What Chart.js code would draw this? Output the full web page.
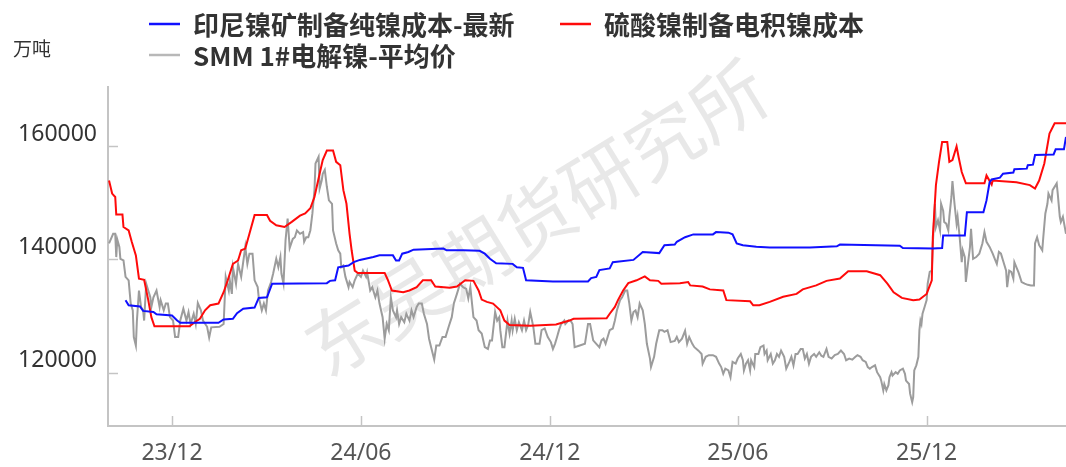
<!DOCTYPE html>
<html>
<head>
<meta charset="utf-8">
<script src="https://cdn.jsdelivr.net/npm/chart.js@4.4.1/dist/chart.umd.min.js"></script>
<style>
  body { margin: 0; background: #fff; }
  #wrap { position: relative; width: 1066px; height: 467px; }
</style>
</head>
<body>
<div id="wrap"><canvas id="nickelChart"></canvas></div>
<script>
// x values are days counted from 2023-09-30
const tickDays = [62, 245, 428, 610, 793];
const tickLabels = ['23/12', '24/06', '24/12', '25/06', '25/12'];
const yTicks = [120000, 140000, 160000];
const seriesNames = ['印尼镍矿制备纯镍成本-最新', '硫酸镍制备电积镍成本', 'SMM 1#电解镍-平均价'];
const unitLabel = '万吨';
const watermark = '东吴期货研究所';

const indoCost = [[17,132800],[20,131900],[31,131700],[34,130900],[44,130700],[47,130300],[62,130100],[67,129200],[70,128800],[107,128800],[112,129400],[121,129500],[125,130500],[131,131300],[142,131500],[146,133200],[154,133300],[159,135700],[212,135800],[215,136200],[220,136300],[223,138600],[233,138900],[238,139500],[244,139900],[257,140400],[263,140700],[276,140700],[279,139800],[282,139800],[285,141000],[291,141300],[296,141700],[325,141900],[328,141600],[344,141600],[360,141500],[365,141000],[370,140100],[376,139300],[392,139200],[396,138600],[402,138500],[405,136300],[431,136100],[465,136100],[468,136700],[473,136900],[476,138100],[486,138400],[489,139500],[509,139900],[518,141300],[534,141100],[539,142500],[549,142600],[551,143100],[559,143900],[567,144400],[586,144400],[589,144800],[601,144700],[605,144400],[609,142800],[615,142500],[628,142200],[641,142100],[680,142100],[706,142300],[709,142600],[767,142400],[770,142000],[799,141900],[808,142000],[809,144200],[830,144200],[832,148300],[848,148300],[851,150400],[854,153600],[856,154100],[864,154400],[867,155100],[877,155300],[878,155900],[890,156000],[891,156600],[896,156700],[898,158400],[916,158500],[918,159400],[926,159400],[928,161600]];

const sulfateCost = [[1,153900],[4,151600],[7,151000],[8,147900],[14,147900],[15,145700],[20,145100],[23,143100],[27,140700],[30,136600],[35,136400],[39,132800],[42,129800],[45,128200],[79,128200],[84,128900],[89,129500],[94,131000],[99,131900],[107,132200],[112,134200],[116,136300],[121,139200],[126,139800],[129,141600],[133,141900],[137,144500],[142,147800],[154,147800],[157,146800],[163,146000],[171,145700],[178,146600],[186,147700],[191,148100],[196,149000],[200,151000],[205,155100],[208,157500],[212,159200],[218,159200],[221,157200],[225,156600],[228,152200],[231,149800],[234,144500],[236,141600],[239,138000],[242,137600],[268,137600],[271,136400],[275,134500],[286,134200],[292,134500],[299,135100],[305,136300],[313,136300],[317,135200],[331,135000],[338,135200],[346,136300],[354,136200],[359,134500],[362,132900],[367,132500],[373,132200],[380,131000],[384,129200],[389,128400],[409,128300],[434,128500],[447,129200],[451,129500],[483,129600],[486,130400],[491,131600],[494,132800],[499,134500],[504,135800],[512,136300],[520,137000],[525,136300],[533,136200],[536,135700],[554,135800],[562,136000],[564,135400],[576,135200],[583,134700],[596,134500],[599,132800],[622,132600],[625,131900],[631,131900],[641,132500],[654,133400],[667,133900],[673,134700],[686,135400],[696,136200],[709,136600],[717,137900],[735,137900],[748,137200],[755,135700],[761,134200],[769,133200],[780,132800],[786,132900],[793,133900],[798,136300],[799,143900],[802,153100],[805,157200],[808,160700],[813,160700],[815,157200],[818,157500],[822,159900],[824,158000],[827,155400],[831,153400],[849,153400],[851,154800],[856,153200],[857,153900],[880,153600],[893,153100],[898,152500],[902,153900],[907,156900],[912,162200],[917,164000],[928,164000]];

const smmPrice = [[1,142800],[5,144500],[7,144500],[8,140400],[9,143500],[11,142200],[12,140100],[15,139800],[17,136900],[20,136300],[22,132200],[24,131000],[25,126300],[27,124800],[28,129200],[30,134500],[32,131600],[34,131000],[35,129200],[37,135700],[39,134500],[41,133300],[42,131600],[44,133300],[47,134500],[50,131600],[51,132800],[54,131000],[56,132200],[58,132200],[60,129800],[63,129200],[65,126300],[68,126300],[70,129200],[73,131300],[76,129200],[78,130700],[80,128600],[83,130400],[85,128600],[87,132300],[90,131000],[92,129200],[96,128100],[98,126200],[100,128000],[108,128100],[112,128600],[114,136900],[117,134500],[118,136300],[120,133900],[121,138600],[124,135700],[126,139200],[129,136900],[133,142200],[135,139200],[137,141000],[140,141000],[142,136300],[145,135100],[146,133300],[149,131000],[151,132200],[153,131000],[155,134500],[158,136000],[160,137500],[163,140100],[165,138600],[167,140400],[168,137500],[170,135700],[172,143400],[174,147200],[176,142000],[179,143600],[181,143900],[183,145100],[186,144500],[189,144800],[190,143100],[192,143900],[194,143900],[196,145100],[198,148100],[200,152200],[201,156900],[204,158100],[205,152500],[207,153900],[208,155100],[210,155800],[212,152800],[214,150400],[217,149800],[218,145100],[221,142800],[223,141600],[225,141000],[226,138600],[228,138900],[230,136900],[233,135100],[234,136000],[237,135100],[239,136300],[242,137500],[245,136900],[247,138000],[250,136900],[251,137700],[254,134500],[256,135100],[259,133300],[261,134500],[263,132200],[266,129800],[268,126000],[270,128600],[272,127500],[274,133300],[276,131000],[279,129800],[280,131000],[282,128600],[284,129800],[287,128900],[289,130400],[292,129200],[294,131000],[296,129800],[299,131600],[301,132200],[304,132200],[306,130400],[309,128600],[311,126000],[313,124500],[316,122300],[318,124800],[321,124800],[324,126300],[327,126300],[330,128100],[333,129800],[335,132200],[338,133900],[341,135700],[344,135100],[347,134800],[349,133100],[351,135100],[352,133300],[354,129800],[357,129200],[359,127500],[362,126900],[365,124500],[368,124200],[370,125700],[372,125700],[375,130700],[377,129200],[379,129800],[380,127500],[382,124500],[384,124500],[387,129200],[389,126900],[391,129200],[392,127500],[394,129500],[396,127500],[398,128900],[401,127500],[403,129200],[405,127500],[407,128400],[409,130700],[412,128100],[414,125100],[418,125100],[420,127500],[423,127800],[426,126300],[429,125400],[431,124200],[433,125100],[435,126300],[437,127600],[439,128600],[442,129200],[443,128600],[446,129200],[448,129200],[450,128600],[452,124500],[457,124800],[462,125100],[465,128600],[467,128600],[470,125700],[473,125100],[476,124500],[478,125700],[480,126000],[482,125100],[484,126300],[486,127500],[489,127800],[491,129200],[493,131000],[496,132800],[498,133300],[501,134500],[503,134500],[505,132200],[507,129200],[509,130700],[511,131000],[513,129800],[515,132200],[518,131000],[520,128600],[522,125100],[525,122500],[526,121000],[529,122800],[531,125100],[534,127500],[537,127500],[539,127200],[542,127500],[545,125400],[549,125600],[551,126300],[553,125400],[556,126000],[559,127400],[561,125100],[563,126300],[566,125100],[568,124500],[572,123900],[575,123300],[576,121600],[579,122800],[582,123100],[586,123100],[589,122800],[592,121600],[594,121000],[596,119800],[598,120700],[601,120400],[603,119200],[605,121900],[608,121600],[610,122500],[613,123300],[615,122200],[616,120400],[618,121600],[620,122200],[622,120400],[623,122200],[626,121000],[627,123300],[630,123300],[632,124500],[635,124800],[636,123300],[638,123900],[639,122200],[642,123300],[644,121600],[646,122200],[648,123300],[650,122800],[652,123900],[655,122800],[657,120700],[660,121900],[662,122800],[664,121300],[666,123300],[668,123300],[671,124200],[673,124200],[675,122500],[677,123300],[679,121600],[681,122800],[684,123300],[686,122800],[689,123600],[691,123000],[693,122800],[696,124200],[698,122800],[701,122500],[704,123100],[707,123300],[710,123900],[713,123300],[715,122200],[718,122500],[721,122300],[724,122800],[726,123100],[729,122800],[731,122200],[734,121900],[736,121000],[738,120700],[740,121000],[743,121300],[745,120100],[748,119200],[749,118600],[751,116900],[752,118000],[754,116900],[756,117800],[757,119200],[759,120100],[760,119500],[763,120100],[765,119800],[767,120400],[770,120700],[772,119800],[773,118600],[776,118000],[777,116300],[779,114800],[780,115700],[781,120400],[783,121300],[785,122800],[786,127500],[787,129200],[788,128600],[789,130400],[791,131600],[793,132800],[794,135700],[796,137800],[798,138000],[799,142800],[801,149800],[802,145700],[804,146900],[806,145100],[807,149800],[809,148600],[810,146600],[812,146300],[814,145100],[815,147500],[817,151000],[818,153800],[820,149800],[822,146300],[823,147500],[825,143900],[827,139500],[828,141600],[830,140400],[831,136000],[833,139200],[835,142200],[836,145400],[838,140100],[841,140400],[844,141000],[847,142800],[849,144800],[851,143100],[854,142200],[857,141000],[859,140100],[861,139200],[863,141300],[865,141000],[867,139800],[870,138000],[871,135100],[873,138000],[875,137800],[877,136600],[878,139500],[880,138600],[882,137700],[885,136000],[888,135700],[891,135500],[894,135400],[897,135400],[898,142800],[900,143900],[902,142500],[905,141600],[906,143900],[908,148100],[910,149800],[911,151600],[914,150400],[915,152200],[919,153400],[920,151600],[922,147500],[923,146600],[925,147500],[928,144500]];

const toPoints = arr => arr.map(p => ({ x: p[0], y: p[1] }));
const axisColor = '#c4c4c4';

// short tick marks drawn inward, plus the rotated watermark
const decorPlugin = {
    id: 'decor',
    beforeDatasetsDraw(chart) {
        const ctx = chart.ctx;
        const area = chart.chartArea;
        ctx.save();
        ctx.translate(area.left + 428, area.top + 131);
        ctx.rotate(-31.5 * Math.PI / 180);
        ctx.font = '75px "Noto Sans CJK SC"';
        ctx.fillStyle = 'rgba(200, 200, 200, 0.42)';
        ctx.textAlign = 'center';
        ctx.textBaseline = 'middle';
        ctx.fillText(watermark, 0, 0);
        ctx.restore();
    },
    afterDraw(chart) {
        const ctx = chart.ctx;
        const xs = chart.scales.x;
        const ys = chart.scales.y;
        ctx.save();
        ctx.strokeStyle = axisColor;
        ctx.lineWidth = 1.5;
        xs.ticks.forEach(t => {
            const px = Math.round(xs.getPixelForValue(t.value)) + 0.5;
            ctx.beginPath();
            ctx.moveTo(px, xs.top);
            ctx.lineTo(px, xs.top - 10);
            ctx.stroke();
        });
        ys.ticks.forEach(t => {
            const py = Math.round(ys.getPixelForValue(t.value)) + 0.5;
            ctx.beginPath();
            ctx.moveTo(ys.right, py);
            ctx.lineTo(ys.right + 10, py);
            ctx.stroke();
        });

        // legend and unit
        const items = [[0, 149, 24], [1, 560, 24], [2, 149, 55]];
        ctx.font = 'bold 26px "Noto Sans CJK SC"';
        ctx.textBaseline = 'middle';
        ctx.textAlign = 'left';
        items.forEach(([i, x, y]) => {
            const ds = chart.data.datasets[i];
            ctx.strokeStyle = ds.legendColor;
            ctx.lineWidth = 2.5;
            ctx.beginPath();
            ctx.moveTo(x, y);
            ctx.lineTo(x + 31, y);
            ctx.stroke();
            ctx.fillStyle = '#333';
            ctx.fillText(ds.label, x + 44, y + 1);
        });
        ctx.font = '19px "Noto Sans CJK SC"';
        ctx.fillStyle = '#333';
        ctx.fillText(unitLabel, 13, 49);
        ctx.restore();
    }
};

const ctx = document.getElementById('nickelChart').getContext('2d');
const nickelChart = new Chart(ctx, {
    type: 'line',
    data: {
        datasets: [{
            label: seriesNames[0],
            data: toPoints(indoCost),
            borderColor: '#1010ff',
            legendColor: '#1010ff',
            borderWidth: 2,
            pointRadius: 0,
            tension: 0
        }, {
            label: seriesNames[1],
            data: toPoints(sulfateCost),
            borderColor: '#ff0a0a',
            legendColor: '#ff0a0a',
            borderWidth: 2,
            pointRadius: 0,
            tension: 0
        }, {
            label: seriesNames[2],
            data: toPoints(smmPrice),
            borderColor: '#9c9c9c',
            legendColor: '#b8b8b8',
            borderWidth: 2,
            pointRadius: 0,
            tension: 0
        }]
    },
    options: {
        responsive: true,
        maintainAspectRatio: false,
        animation: false,
        layout: { padding: { top: 87, right: 0, bottom: 0, left: 0 } },
        plugins: {
            legend: { display: false },
            tooltip: { enabled: false }
        },
        scales: {
            x: {
                type: 'linear',
                min: 0,
                max: 928,
                grid: { display: false, drawTicks: false },
                border: { color: axisColor, width: 2 },
                afterBuildTicks: scale => {
                    scale.ticks = tickDays.map(v => ({ value: v }));
                },
                afterFit: scale => { scale.height = 41; },
                ticks: {
                    autoSkip: false,
                    maxRotation: 0,
                    padding: 14,
                    color: '#555',
                    font: { family: '"Noto Sans"', size: 23 },
                    callback: value => tickLabels[tickDays.indexOf(value)]
                }
            },
            y: {
                min: 110600,
                max: 170400,
                grid: { display: false, drawTicks: false },
                border: { color: axisColor, width: 2 },
                afterBuildTicks: scale => {
                    scale.ticks = yTicks.map(v => ({ value: v }));
                },
                afterFit: scale => { scale.width = 108; },
                ticks: {
                    padding: 11,
                    labelOffset: -12,
                    color: '#333',
                    font: { family: '"Noto Sans"', size: 23 },
                    callback: value => String(value)
                }
            }
        }
    },
    plugins: [decorPlugin]
});
</script>
</body>
</html>
